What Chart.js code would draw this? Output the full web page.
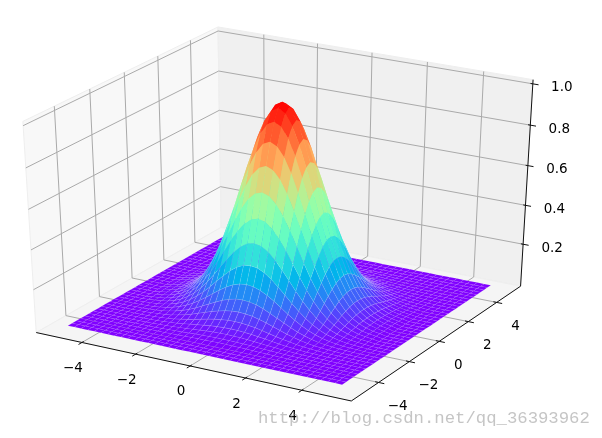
<!DOCTYPE html>
<html>
<head>
<meta charset="utf-8">
<title>Surface</title>
<script src="https://cdn.jsdelivr.net/npm/chart.js@4"></script>
<style>
html, body { margin: 0; padding: 0; background: #fff; }
/* the reference is a soft, upscaled picture */
canvas { display: block; filter: blur(0.7px); }
</style>
</head>
<body>
<canvas id="myChart" width="602" height="438"></canvas>
<script>
// mesh positions along x and y
let meshValues = [-5, -4.75, -4.5, -4.25, -4, -3.75, -3.5, -3.25, -3, -2.75, -2.5, -2.25, -2, -1.75, -1.5, -1.25, -1, -0.75, -0.5, -0.25,
    0, 0.25, 0.5, 0.75, 1, 1.25, 1.5, 1.75, 2, 2.25, 2.5, 2.75, 3, 3.25, 3.5, 3.75, 4, 4.25, 4.5, 4.75, 5]

let heightRows = [
    [1.012],
    [.993, .974],
    [.938, .920, .870],
    [.853, .837, .791, .720],
    [.747, .733, .693, .630, .552],
    [.630, .618, .584, .532, .466, .393],
    [.512, .502, .474, .432, .378, .319, .259],
    [.400, .393, .371, .337, .295, .249, .202, .158],
    [.301, .296, .279, .254, .222, .188, .152, .119, .090],
    [.218, .214, .202, .184, .161, .136, .110, .086, .065, .047],
    [.152, .149, .141, .128, .112, .095, .077, .060, .045, .033, .023],
    [.102, .100, .095, .086, .076, .064, .052, .040, .030, .022, .015, .010],
    [.066, .065, .061, .056, .049, .041, .033, .026, .020, .014, .010, .007, .004],
    [.041, .040, .038, .035, .030, .026, .021, .016, .012, .009, .006, .004, .003, .002],
    [.025, .024, .023, .021, .018, .015, .012, .010, .007, .005, .004, .002, .002, .001, .001],
    [.014, .014, .013, .012, .011, .009, .007, .006, .004, .003, .002, .001, .001, .001, 0, 0],
    [.008, .008, .007, .007, .006, .005, .004, .003, .002, .002, .001, .001, .001, 0, 0, 0, 0]
]

let xTicks = [-4, -2, 0, 2, 4]
let yTicks = [-4, -2, 0, 2, 4]
let zTicks = [0.2, 0.4, 0.6, 0.8, 1.0]
let xTickLabels = ['\u22124', '\u22122', '0', '2', '4']
let yTickLabels = ['\u22124', '\u22122', '0', '2', '4']
let zTickLabels = ['0.2', '0.4', '0.6', '0.8', '1.0']
let watermark = 'http://blog.csdn.net/qq_36393962'

// box limits of the panes
let xyEdge = 5.73
let zLow = -0.02
let zHigh = 1.02

function heightAt(i, j) {
    let a = Math.abs(i - 20)
    let b = Math.abs(j - 20)
    let big = Math.max(a, b)
    let small = Math.min(a, b)
    if (big >= heightRows.length) return 0
    return heightRows[big][small]
}

// same camera as a default 3d axes: elev 30, azim -60, dist 10
function project(x, y, z) {
    let qx = x / 11, qy = y / 11, qz = z - 0.5
    let d = 10 - (qx * 0.433 - qy * 0.75 + qz * 0.5)
    return {
        x: (qx * 0.866 + qy * 0.5) / d,
        y: (-qx * 0.25 + qy * 0.433 + qz * 0.866) / d,
        depth: d
    }
}

function rainbow(v) {
    v = Math.min(1, v)
    let r = Math.min(1, Math.abs(2 * v - 0.5))
    let g = Math.sin(Math.PI * v)
    let b = Math.cos(Math.PI * v / 2)
    return 'rgb(' + Math.round(r * 255) + ',' + Math.round(g * 255) + ',' + Math.round(b * 255) + ')'
}

function polyline(points, color, width, fillColor) {
    return {
        data: points.map(p => project(p[0], p[1], p[2])),
        showLine: true,
        pointRadius: 0,
        borderColor: color,
        borderWidth: width,
        backgroundColor: fillColor || 'transparent',
        fill: fillColor ? 'shape' : false,
        tension: 0
    }
}

let e = xyEdge
let drawList = []

// panes
drawList.push(polyline([[-e, -e, zLow], [-e, e, zLow], [-e, e, zHigh], [-e, -e, zHigh], [-e, -e, zLow]], '#eeeeee', 1, '#f8f8f8'))
drawList.push(polyline([[-e, e, zLow], [e, e, zLow], [e, e, zHigh], [-e, e, zHigh], [-e, e, zLow]], '#eeeeee', 1, '#f0f0f0'))
drawList.push(polyline([[-e, -e, zLow], [e, -e, zLow], [e, e, zLow], [-e, e, zLow], [-e, -e, zLow]], '#eeeeee', 1, '#f5f5f5'))

// grid lines
let gridColor = '#aaaaaa'
xTicks.forEach(t => drawList.push(polyline([[t, -e, zLow], [t, e, zLow], [t, e, zHigh]], gridColor, 1)))
yTicks.forEach(t => drawList.push(polyline([[e, t, zLow], [-e, t, zLow], [-e, t, zHigh]], gridColor, 1)))
zTicks.forEach(t => drawList.push(polyline([[-e, -e, t], [-e, e, t], [e, e, t]], gridColor, 1)))

// axis lines and tick marks
let axisColor = '#111111'
drawList.push(polyline([[-e, -e, zLow], [e, -e, zLow], [e, e, zLow], [e, e, zHigh]], axisColor, 1))
xTicks.forEach(t => drawList.push(polyline([[t, -e - 0.2, zLow], [t, -e + 0.1, zLow]], axisColor, 1)))
yTicks.forEach(t => drawList.push(polyline([[e - 0.12, t, zLow], [e + 0.2, t, zLow]], axisColor, 1)))
zTicks.forEach(t => drawList.push(polyline([[e - 0.08, e, t], [e + 0.2, e, t]], axisColor, 1)))

// surface cells, far ones first
let cells = []
for (let i = 0; i < meshValues.length - 1; i++) {
    for (let j = 0; j < meshValues.length - 1; j++) {
        let corners = [[i, j], [i + 1, j], [i + 1, j + 1], [i, j + 1]].map(c => [meshValues[c[0]], meshValues[c[1]], heightAt(c[0], c[1])])
        let mean = corners.reduce((sum, c) => sum + c[2], 0) / 4
        let depth = corners.reduce((sum, c) => sum + project(c[0], c[1], c[2]).depth, 0) / 4
        cells.push({corners, mean, depth})
    }
}
cells.sort((a, b) => b.depth - a.depth)
cells.forEach(c => {
    let color = rainbow(c.mean)
    // pale mesh seams: faint on the flat part, fading out towards the top of the bump
    let alpha = c.mean < 0.02 ? 0.1 : 0.2 * Math.max(0, 1 - c.mean * 1.6)
    drawList.push(polyline(c.corners.concat([c.corners[0]]), 'rgba(255,255,255,' + alpha + ')', 0.6, color))
})

let tickText = {
    id: 'tickText',
    afterDraw(chart) {
        let ctx = chart.ctx
        let px = p => [chart.scales.x.getPixelForValue(p.x), chart.scales.y.getPixelForValue(p.y)]
        ctx.save()
        ctx.font = '13.5px "DejaVu Sans"'
        ctx.fillStyle = '#000000'
        ctx.textAlign = 'center'
        ctx.textBaseline = 'middle'
        xTicks.forEach((t, i) => {
            let p = px(project(t, -e, zLow))
            ctx.fillText(xTickLabels[i], p[0] - 9, p[1] + 26)
        })
        yTicks.forEach((t, i) => {
            let p = px(project(e, t, zLow))
            ctx.fillText(yTickLabels[i], p[0] + 19, p[1] + 24)
        })
        zTicks.forEach((t, i) => {
            let p = px(project(e, e, t))
            ctx.fillText(zTickLabels[i], p[0] + 29, p[1] + 4)
        })
        ctx.font = '17.3px "Liberation Mono"'
        ctx.fillStyle = 'rgba(140,140,140,0.5)'
        ctx.textAlign = 'left'
        ctx.fillText(watermark, 258, 418)
        ctx.restore()
    }
}

let ctx = document.getElementById('myChart').getContext('2d')
let chart = new Chart(ctx, {
    type: 'scatter',
    plugins: [tickText],
    data: {
        // chart.js paints the first dataset last
        datasets: drawList.reverse()
    },
    options: {
        responsive: false,
        animation: false,
        events: [],
        layout: { padding: 0 },
        scales: {
            x: { display: false, min: -0.08086, max: 0.09158 },
            y: { display: false, min: -0.09957, max: 0.08947 }
        },
        plugins: {
            legend: { display: false },
            tooltip: { enabled: false }
        }
    }
})
</script>
</body>
</html>
